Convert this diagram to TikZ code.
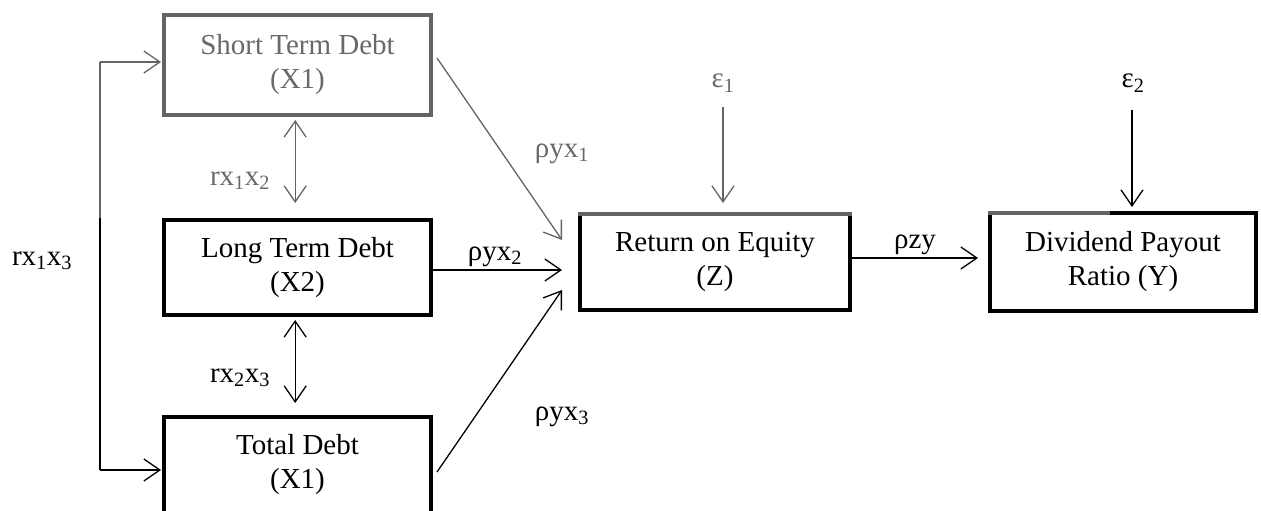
\documentclass[tikz,border=0pt]{standalone}
\usepackage{fontspec}
\setmainfont{Liberation Serif}
\usetikzlibrary{arrows.meta,calc}
\definecolor{tint}{RGB}{100,100,100}
\definecolor{tinttext}{RGB}{105,105,105}
\tikzset{
  box/.style={draw, line width=4pt, inner sep=0pt, align=center,
    font=\fontsize{29}{34}\selectfont},
  conn/.style={line width=1.3pt, -{Straight Barb[length=16pt,width=22pt,line width=1.3pt]}},
  dconn/.style={line width=1.3pt, {Straight Barb[length=16pt,width=22pt,line width=1.3pt]}-{Straight Barb[length=16pt,width=22pt,line width=1.3pt]}},
  lbl/.style={anchor=base, inner sep=0pt, font=\fontsize{29}{34}\selectfont},
}
\begin{document}
\begin{tikzpicture}[x=1pt,y=-1pt]
\useasboundingbox (0,0) rectangle (1261,511);
% boxes
\node[box, draw=tint, text=tinttext, minimum width=267pt, minimum height=100pt] (STD) at (297.5,65) {Short Term Debt\\(X1)};
\node[box, minimum width=267pt, minimum height=95pt] (LTD) at (297.5,267.5) {Long Term Debt\\(X2)};
\node[box, minimum width=267pt, minimum height=96pt] (TD) at (297.5,465) {Total Debt\\(X1)};
\node[box, minimum width=270pt, minimum height=96pt] (ROE) at (715,262) {Return on Equity\\(Z)};
\node[box, minimum width=266pt, minimum height=98pt] (DPR) at (1123,262) {Dividend Payout\\Ratio (Y)};
% tinted top edges
\draw[tint, line width=4pt] ($(ROE.north west)+(0,2)$) -- ($(ROE.north east)+(0,2)$);
\draw[tint, line width=4pt] ($(DPR.north west)+(0,2)$) -- ($(DPR.north west)+(122,2)$);
% labels
\node[lbl, text=tinttext] (l12) at (240,185) {rx\textsubscript{1}x\textsubscript{2}};
\node[lbl] (l23) at (240,382) {rx\textsubscript{2}x\textsubscript{3}};
\node[lbl] (l13) at (42,265) {rx\textsubscript{1}x\textsubscript{3}};
\node[lbl, text=tinttext] (ly1) at (562,157) {ρyx\textsubscript{1}};
\node[lbl] (ly2) at (495,260) {ρyx\textsubscript{2}};
\node[lbl] (ly3) at (562,420) {ρyx\textsubscript{3}};
\node[lbl] (lzy) at (915,248) {ρzy};
\node[lbl, text=tinttext] (e1) at (723,88) {ε\textsubscript{1}};
\node[lbl] (e2) at (1133,88) {ε\textsubscript{2}};
% coordinates
\coordinate (bt) at (100,62);
\coordinate (bm) at (100,218);
\coordinate (bb) at (100,470);
\coordinate (in1) at (562,240);
\coordinate (in2) at (562,270);
\coordinate (in3) at (562,290);
\coordinate (s1) at (437,58);
\coordinate (s3) at (437,472);
\coordinate (e1s) at (723,107);
\coordinate (e2s) at (1132,110);
% bracket rx1x3
\draw[tint, line width=2pt] (bt) -- (bm);
\draw[line width=2pt] (bm) -- (bb);
\draw[conn, tint, shorten >=1pt] (bt) -- (STD.west |- bt);
\draw[conn, shorten >=1pt] (bb) -- (TD.west |- bb);
% correlations
\draw[dconn, tint, shorten <=3pt, shorten >=15pt] (STD.south -| l12.east) ++(25,0) coordinate (d1) -- (d1 |- LTD.north);
\draw[dconn, shorten <=3pt, shorten >=12pt] (LTD.south -| l23.east) ++(25,0) coordinate (d2) -- (d2 |- TD.north);
% paths to ROE
\draw[conn, tint] (s1) -- (in1);
\draw[conn] (LTD.east |- in2) -- (in2);
\draw[conn] (s3) -- (in3);
\draw[conn, tint, shorten >=9pt] (e1s) -- (e1s |- ROE.north);
\draw[conn, shorten >=4pt] (e2s) -- (e2s |- DPR.north);
\draw[conn, shorten >=10pt] ($(ROE.east)+(0,-4)$) -- ($(DPR.west)+(0,-4)$);
\end{tikzpicture}
\end{document}
